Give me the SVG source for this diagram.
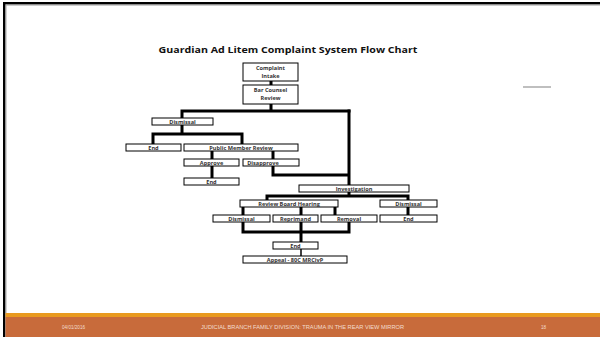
<svg xmlns="http://www.w3.org/2000/svg" width="600" height="337" viewBox="0 0 600 337">
<style>
.box{fill:#fff;stroke:#000;stroke-width:1}
.lbl{font-family:"Open Sans","Liberation Sans",sans-serif;font-size:5.6px;font-weight:bold;fill:#333;text-anchor:middle}
.con{stroke:#000;stroke-width:3;fill:none;stroke-linecap:square}
.foot{font-family:"Liberation Sans",Arial,sans-serif;font-size:4.6px;fill:#f3dccd}
</style>
<rect x="0" y="0" width="600" height="337" fill="#fff"/>
<!-- frame -->
<rect x="3" y="2" width="597" height="2.5" fill="#000"/>
<rect x="5" y="4.5" width="595" height="1" fill="#999"/>
<rect x="3" y="2" width="2.5" height="335" fill="#000"/>
<rect x="5.5" y="4.5" width="1" height="333" fill="#aaa"/>
<!-- footer -->
<rect x="5.5" y="313" width="594.5" height="4" fill="#E99A1F"/>
<rect x="5.5" y="317" width="594.5" height="20" fill="#C86B3B"/>
<text class="foot" x="62" y="329">04/01/2016</text>
<text class="foot" x="201" y="329" textLength="203" lengthAdjust="spacingAndGlyphs">JUDICIAL BRANCH FAMILY DIVISION:  TRAUMA IN THE REAR VIEW MIRROR</text>
<text class="foot" x="541" y="329">18</text>
<!-- small gray line -->
<line x1="523" y1="87" x2="551" y2="87" stroke="#aaa" stroke-width="1.5"/>
<!-- title -->
<text x="288" y="53" font-family="'Open Sans','Liberation Sans',sans-serif" font-size="8.4" font-weight="bold" fill="#111" text-anchor="middle" textLength="259" lengthAdjust="spacingAndGlyphs">Guardian Ad Litem Complaint System Flow Chart</text>
<g id="connectors">
<path class="con" d="M271 81V85M271 104V111M182 111H349M182 111V118M182 125V134M153 134H242M153 134V144M242 134V144"/>
<path class="con" d="M212 151V159M212 166V178M273 151V159M273 166V175H349M349 111V185"/>
<path class="con" d="M349 192V196M267 196H408M267 196V200M408 196V200M408 207V215"/>
<path class="con" d="M243 207V215M301 207V215M335 207V215M243 222V232H349V222M301 222V242"/>
<path d="M301 249V256" stroke="#000" stroke-width="1.5"/>
</g>
<g id="intake"><rect class="box" x="243" y="63" width="55" height="18"/><text class="lbl" x="270.5" y="70">Complaint</text><text class="lbl" x="270.5" y="77.5">Intake</text></g>
<g id="barcounsel"><rect class="box" x="243" y="85" width="55" height="19"/><text class="lbl" x="270.5" y="92">Bar Counsel</text><text class="lbl" x="270.5" y="100">Review</text></g>
<g id="dismissal1"><rect class="box" x="152" y="118" width="61" height="7"/><text class="lbl" x="182.5" y="123.7">Dismissal</text></g>
<g id="end1"><rect class="box" x="126" y="144" width="55" height="7"/><text class="lbl" x="153.5" y="149.7">End</text></g>
<g id="publicmember"><rect class="box" x="184" y="144" width="114" height="7"/><text class="lbl" x="241" y="149.7">Public Member Review</text></g>
<g id="approve"><rect class="box" x="184" y="159" width="55" height="7"/><text class="lbl" x="211.5" y="164.7">Approve</text></g>
<g id="disapprove"><rect class="box" x="243" y="159" width="56" height="7"/><text class="lbl" x="263" y="164.7">Disapprove</text></g>
<g id="end2"><rect class="box" x="184" y="178" width="55" height="7"/><text class="lbl" x="211.5" y="183.7">End</text></g>
<g id="investigation"><rect class="box" x="299" y="185" width="110" height="7"/><text class="lbl" x="354" y="190.7">Investigation</text></g>
<g id="reviewboard"><rect class="box" x="240" y="200" width="98" height="7"/><text class="lbl" x="289" y="205.7">Review Board Hearing</text></g>
<g id="dismissal2"><rect class="box" x="380" y="200" width="57" height="7"/><text class="lbl" x="408.5" y="205.7">Dismissal</text></g>
<g id="dismissal3"><rect class="box" x="213" y="215" width="57" height="7"/><text class="lbl" x="241.5" y="220.7">Dismissal</text></g>
<g id="reprimand"><rect class="box" x="273" y="215" width="45" height="7"/><text class="lbl" x="295.5" y="220.7">Reprimand</text></g>
<g id="removal"><rect class="box" x="321" y="215" width="56" height="7"/><text class="lbl" x="349" y="220.7">Removal</text></g>
<g id="end3"><rect class="box" x="380" y="215" width="57" height="7"/><text class="lbl" x="408.5" y="220.7">End</text></g>
<g id="end4"><rect class="box" x="273" y="242" width="45" height="7"/><text class="lbl" x="295.5" y="247.7">End</text></g>
<g id="appeal"><rect class="box" x="243" y="256" width="104" height="7"/><text class="lbl" x="295" y="261.7">Appeal - 80C MRCivP</text></g>
</svg>
